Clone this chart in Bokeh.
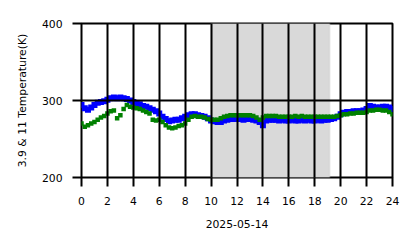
from bokeh.plotting import figure
from bokeh.models import BoxAnnotation, FixedTicker, Range1d
from bokeh.embed import file_html
from bokeh.resources import INLINE

# hours of day, every 15 minutes
hours = [i * 0.25 for i in range(97)]

# 3.9 micron brightness temperature (K)
t39 = [294, 290, 288, 291,
       294, 297, 298, 299,
       301, 303, 304, 303,
       304, 303, 302, 300,
       298, 296, 295, 293,
       292, 290, 288, 286,
       283, 279, 276, 273,
       274, 275, 275, 277,
       279, 281, 282, 282,
       281, 280, 279, 277,
       274, 273, 272, 272,
       274, 275, 276, 276,
       276, 276, 275, 276,
       276, 275, 274, 272,
       268, 274, 275, 275,
       275, 274, 275, 274,
       274, 275, 274, 274,
       275, 274, 275, 274,
       274, 275, 274, 275,
       275, 276, 277, 279,
       282, 284, 285, 285,
       286, 286, 286, 287,
       289, 293, 292, 291,
       291, 292, 292, 291,
       289]

# 11 micron brightness temperature (K)
t11 = [270, 266, 268, 270,
       272, 275, 278, 280,
       283, 286, 287, 277,
       281, 289, 294, 292,
       291, 290, 289, 287,
       285, 283, 275, 274,
       275, 272, 268, 265,
       264, 265, 267, 268,
       270, 275, 279, 280,
       279, 279, 278, 276,
       275, 275, 275, 277,
       279, 280, 281, 281,
       281, 281, 281, 281,
       281, 280, 278, 275,
       278, 280, 280, 280,
       280, 279, 279, 279,
       279, 279, 280, 279,
       280, 279, 279, 279,
       279, 279, 279, 279,
       279, 279, 279, 280,
       281, 282, 282, 283,
       283, 284, 284, 284,
       285, 287, 287, 288,
       288, 287, 287, 285,
       282]

x_ticks = list(range(0, 25, 2))
y_ticks = [200, 300, 400]
shade_start, shade_end = 10.0, 19.15
x_label = "2025-05-14"
y_label = "3.9 & 11 Temperature(K)"

FONT = "DejaVu Sans"
FS = "10.8px"

p = figure(width=418, height=248, output_backend="svg", toolbar_location=None,
           x_range=Range1d(0, 24), y_range=Range1d(200, 400),
           min_border_left=81, min_border_right=26, min_border_top=23, min_border_bottom=71)
p.outline_line_color = "black"
p.outline_line_width = 2
p.background_fill_color = "white"
p.border_fill_color = "white"

shade = BoxAnnotation(left=shade_start, right=shade_end, fill_color="#d9d9d9", fill_alpha=1.0,
                      line_color="#c6c6c6", line_width=2, level="underlay")
p.add_layout(shade)

p.scatter(hours, t39, marker="square", size=6, color="#0000ff", line_width=0)
p.scatter(hours, t11, marker="square", size=4.5, color="#008000", line_width=0)

p.xaxis.ticker = FixedTicker(ticks=x_ticks)
p.yaxis.ticker = FixedTicker(ticks=y_ticks)
p.xgrid.ticker = FixedTicker(ticks=x_ticks)
p.ygrid.ticker = FixedTicker(ticks=y_ticks)
for g in (p.xgrid, p.ygrid):
    g.grid_line_color = "black"
    g.grid_line_width = 2
    g.grid_line_alpha = 1.0
    g.level = "overlay"

for ax in (p.xaxis, p.yaxis):
    ax.axis_line_color = None
    ax.major_tick_line_color = "black"
    ax.major_tick_line_width = 2
    ax.major_tick_in = 0
    ax.major_tick_out = 9
    ax.minor_tick_line_color = None
    ax.major_label_text_font = FONT
    ax.major_label_text_font_size = FS
    ax.major_label_text_color = "black"
    ax.major_label_standoff = 10
    ax.axis_label_text_font = FONT
    ax.axis_label_text_font_size = FS
    ax.axis_label_text_font_style = "normal"
    ax.axis_label_text_color = "black"
    ax.axis_label_standoff = 12
p.yaxis.axis_label_standoff = 10

p.xaxis.axis_label = x_label
p.yaxis.axis_label = y_label

open("out.html", "w").write(file_html(p, INLINE))
